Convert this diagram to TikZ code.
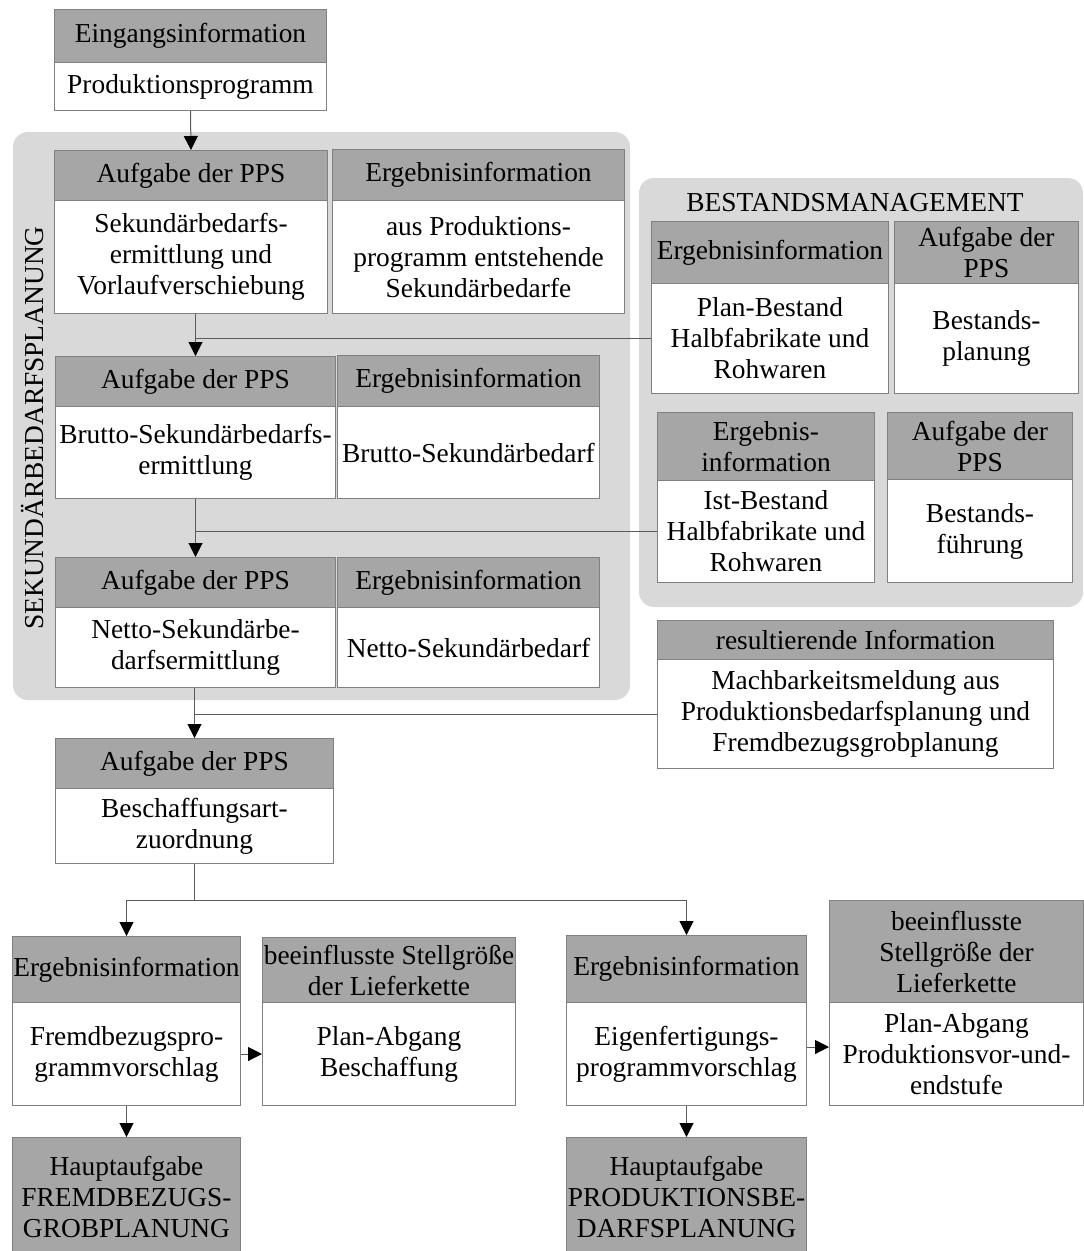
\documentclass[tikz,border=0pt]{standalone}
\usepackage{fontspec}
\setmainfont{Liberation Serif}
\usetikzlibrary{arrows.meta,calc}

\definecolor{hdrgray}{HTML}{A6A6A6}
\definecolor{grpgray}{HTML}{D9D9D9}
\definecolor{edgegray}{HTML}{808080}
\definecolor{wiregray}{HTML}{5A5A5A}

\tikzset{
  txt/.style={font=\fontsize{27.4}{31}\selectfont, align=center, inner sep=0pt},
  hdr/.style={txt, draw=edgegray, fill=hdrgray, anchor=north west, line width=1pt},
  bdy/.style={txt, draw=edgegray, fill=white, anchor=north west, line width=1pt},
  link/.style={draw=wiregray, line width=1pt},
  arr/.style={link, -{Triangle[width=14pt,length=14pt,color=black,fill=black]}},
}

% two-part box: name, left, top, right, header bottom, bottom, header text, body text
\newcommand{\panel}[8]{%
  \pgfmathsetmacro\panW{#4-#2}%
  \pgfmathsetmacro\panH{#5-#3}%
  \pgfmathsetmacro\panB{#6-#5}%
  \node[hdr, minimum width=\panW pt, minimum height=\panH pt] (#1h) at (#2,#3) {#7};
  \node[bdy, minimum width=\panW pt, minimum height=\panB pt] (#1) at (#2,#5) {#8};
}

\begin{document}
\begin{tikzpicture}[x=1pt, y=-1pt]
\useasboundingbox (0,0) rectangle (1084,1251);
\fill[white] (0,0) rectangle (1084,1251);

% group backgrounds
\fill[grpgray, rounded corners=15pt] (13,132) rectangle (630,700);
\node[txt, rotate=90] (sek) at (33,428) {SEKUNDÄRBEDARFSPLANUNG};
\fill[grpgray, rounded corners=15pt] (639,178) rectangle (1083,607);
\node[txt] (bm) at (855,203) {BESTANDSMANAGEMENT};

% input
\panel{ein}{54}{9}{326}{62}{110}{Eingangsinformation}{Produktionsprogramm}

% secondary demand planning
\panel{b1}{54}{150}{327}{200}{313}{Aufgabe der PPS}{Sekundärbedarfs-\\ermittlung und\\Vorlaufverschiebung}
\panel{b2}{332}{149}{624}{200}{313}{Ergebnisinformation}{aus Produktions-\\programm entstehende\\Sekundärbedarfe}
\panel{b3}{55}{356}{335}{406}{498}{Aufgabe der PPS}{Brutto-Sekundärbedarfs-\\ermittlung}
\panel{b4}{337}{355}{599}{406}{498}{Ergebnisinformation}{Brutto-Sekundärbedarf}
\panel{b5}{55}{557}{335}{607}{687}{Aufgabe der PPS}{Netto-Sekundärbe-\\darfsermittlung}
\panel{b6}{337}{557}{599}{607}{687}{Ergebnisinformation}{Netto-Sekundärbedarf}

% inventory management
\panel{pb}{651}{221}{888}{283}{393}{Ergebnisinformation}{Plan-Bestand\\Halbfabrikate und\\Rohwaren}
\panel{bp}{894}{221}{1078}{283}{393}{Aufgabe der\\PPS}{Bestands-\\planung}
\panel{ib}{657}{412}{874}{480}{582}{Ergebnis-\\information}{Ist-Bestand\\Halbfabrikate und\\Rohwaren}
\panel{bf}{887}{412}{1072}{479}{582}{Aufgabe der\\PPS}{Bestands-\\führung}

\panel{res}{657}{620}{1053}{659}{768}{resultierende Information}{Machbarkeitsmeldung aus\\Produktionsbedarfsplanung und\\Fremdbezugsgrobplanung}

% procurement type assignment and results
\panel{bz}{55}{738}{333}{788}{863}{Aufgabe der PPS}{Beschaffungsart-\\zuordnung}
\panel{fb}{12}{936}{240}{1002}{1105}{Ergebnisinformation}{Fremdbezugspro-\\grammvorschlag}
\panel{sa}{262}{937}{515}{1002}{1105}{beeinflusste Stellgröße\\der Lieferkette}{Plan-Abgang\\Beschaffung}
\panel{ef}{566}{935}{806}{1002}{1105}{Ergebnisinformation}{Eigenfertigungs-\\programmvorschlag}
\panel{sb}{829}{900}{1083}{1002}{1105}{beeinflusste\\Stellgröße der\\Lieferkette}{Plan-Abgang\\Produktionsvor-und-\\endstufe}

\node[hdr, minimum width=228pt, minimum height=118pt, text depth=0pt] (hf) at (12,1137) {Hauptaufgabe\\FREMDBEZUGS-\\GROBPLANUNG};
\node[hdr, minimum width=240pt, minimum height=118pt, text depth=0pt] (hp) at (566,1137) {Hauptaufgabe\\PRODUKTIONSBE-\\DARFSPLANUNG};

% connectors
\draw[arr] (ein.south) -- (b1h.north);
\draw[arr] (b3h.north |- b1.south) -- (b3h.north);
\draw[link] (pb.west) -- (pb.west -| b3h.north);
\draw[arr] (b3.south -| b5h.north) -- (b5h.north);
\draw[link] (ib.west) -- (ib.west -| b5h.north);
\draw[arr] (b5.south -| bzh.north) -- (bzh.north);
\draw[link] (res.west) -- (res.west -| bzh.north);
\coordinate (split) at ($(bz.south)+(0,36)$);
\draw[link] (bz.south) -- (split);
\draw[arr] (split) -| (fbh.north);
\draw[arr] (split) -| (efh.north);
\draw[arr] (fb.east) -- (fb.east -| sa.west);
\draw[arr] ([yshift=7pt]ef.east) -- ([yshift=7pt]ef.east -| sb.west);
\draw[arr] (fb.south) -- (hf.north);
\draw[arr] (ef.south) -- (hp.north);
\end{tikzpicture}
\end{document}
